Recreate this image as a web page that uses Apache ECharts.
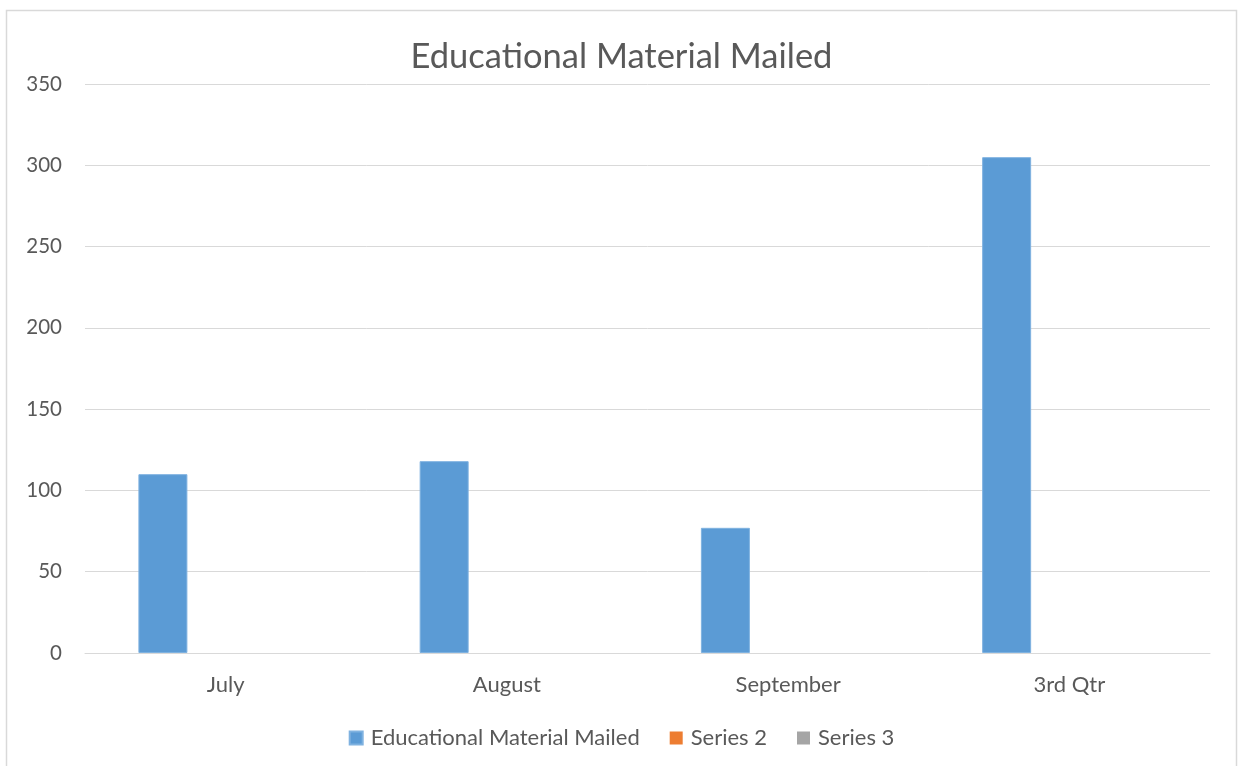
<!DOCTYPE html>
<html>
<head>
<meta charset="utf-8">
<script src="https://cdn.jsdelivr.net/npm/echarts@6/dist/echarts.min.js"></script>
<style>
  html, body { margin: 0; padding: 0; background: #fff; }
  #chart { width: 1243px; height: 766px; }
</style>
</head>
<body>
<div id="chart"></div>
<script>
// Categories and values
const categories = ['July', 'August', 'September', '3rd Qtr'];
const mailedValues = [110, 118, 77, 305];
const series2Values = [0, 0, 0, 0];
const series3Values = [0, 0, 0, 0];
const seriesNames = ['Educational Material Mailed', 'Series 2', 'Series 3'];

const FONT = 'Lato, "Open Sans", sans-serif';
const TEXT = '#595959';
const GRID_LINE = '#d9d9d9';

const chart = echarts.init(document.getElementById('chart'));

chart.setOption({
  backgroundColor: '#ffffff',
  animation: false,
  title: {
    text: 'Educational Material Mailed',
    left: 'center',
    top: 34,
    textStyle: { fontFamily: FONT, fontSize: 34.5, fontWeight: 'normal', color: TEXT }
  },
  graphic: [{
    type: 'rect',
    shape: { x: 6.5, y: 10.5, width: 1230, height: 800 },
    style: { fill: 'none', stroke: GRID_LINE, lineWidth: 1.5 },
    silent: true
  }],
  legend: {
    top: 722,
    left: 'center',
    icon: 'rect',
    itemWidth: 13,
    itemHeight: 13,
    itemGap: 30,
    textStyle: { fontFamily: FONT, fontSize: 22, color: TEXT, padding: [0, 0, 0, 3] },
    data: seriesNames
  },
  grid: {
    left: 85, right: 33, top: 84, bottom: 113,
    outerBoundsMode: 'none'
  },
  xAxis: {
    type: 'category',
    data: categories,
    axisTick: { show: false },
    axisLine: { lineStyle: { color: GRID_LINE, width: 1 } },
    axisLabel: { fontFamily: FONT, fontSize: 22, color: TEXT, margin: 21 }
  },
  yAxis: {
    type: 'value',
    min: 0,
    max: 350,
    interval: 50,
    axisLine: { show: false },
    axisTick: { show: false },
    splitLine: { lineStyle: { color: GRID_LINE, width: 1 } },
    axisLabel: { fontFamily: FONT, fontSize: 20.5, color: TEXT, margin: 23 }
  },
  series: [
    {
      name: seriesNames[0],
      type: 'bar',
      data: mailedValues,
      barWidth: 49,
      barGap: '28%',
      itemStyle: { color: '#5b9bd5', borderColor: '#7fb2e0', borderWidth: 1 }
    },
    {
      name: seriesNames[1],
      type: 'bar',
      data: series2Values,
      barWidth: 49,
      barGap: '28%',
      itemStyle: { color: '#ed7d31' }
    },
    {
      name: seriesNames[2],
      type: 'bar',
      data: series3Values,
      barWidth: 49,
      barGap: '28%',
      itemStyle: { color: '#a5a5a5' }
    }
  ]
});
</script>
</body>
</html>
